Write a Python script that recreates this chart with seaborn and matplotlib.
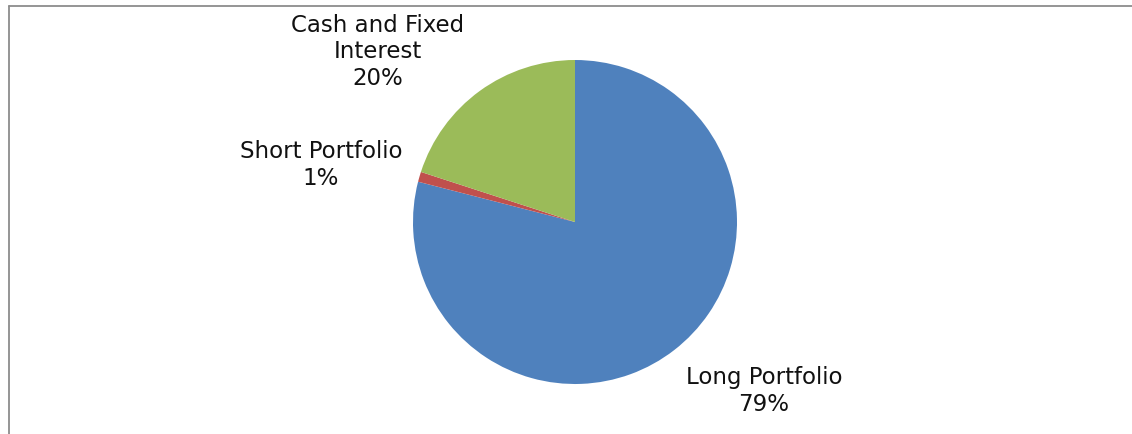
import matplotlib
matplotlib.use("Agg")
import matplotlib.pyplot as plt
import seaborn as sns
from matplotlib.lines import Line2D

categories = ["Long Portfolio", "Short Portfolio", "Cash and Fixed\nInterest"]
values = [79, 1, 20]
colors = ["#4F81BD", "#C0504D", "#9BBB59"]

sns.set_theme(style="white")
plt.rcParams['font.family'] = ['DejaVu Sans']

W, H = 1132, 434
fig = plt.figure(figsize=(W / 100, H / 100), dpi=100)
cx, cy, r = 575, 222, 162
ax = fig.add_axes([(cx - r) / W, (H - cy - r) / H, 2 * r / W, 2 * r / H])
wedges, _ = ax.pie(values, colors=colors, startangle=90, counterclock=False,
                   radius=1, wedgeprops=dict(linewidth=0))
ax.set_xlim(-1, 1)
ax.set_ylim(-1, 1)
ax.set_aspect("equal")
ax.axis("off")

label_pos = [(1.167, -1.045), (-1.568, 0.352), (-1.216, 1.050)]
for cat, val, (x, y) in zip(categories, values, label_pos):
    ax.text(x, y, f"{cat}\n{val}%", ha="center", va="center", fontsize=16.5,
            color="#111111", linespacing=1.2, clip_on=False)

border = "#8c8c8c"
fig.add_artist(Line2D([8.5 / W, 1.0], [1 - 5.5 / H, 1 - 5.5 / H], color=border,
                      lw=1.3, transform=fig.transFigure))
fig.add_artist(Line2D([8.5 / W, 8.5 / W], [0, 1 - 5.5 / H], color=border,
                      lw=1.3, transform=fig.transFigure))

fig.savefig("out.png", dpi=100, facecolor="white")
